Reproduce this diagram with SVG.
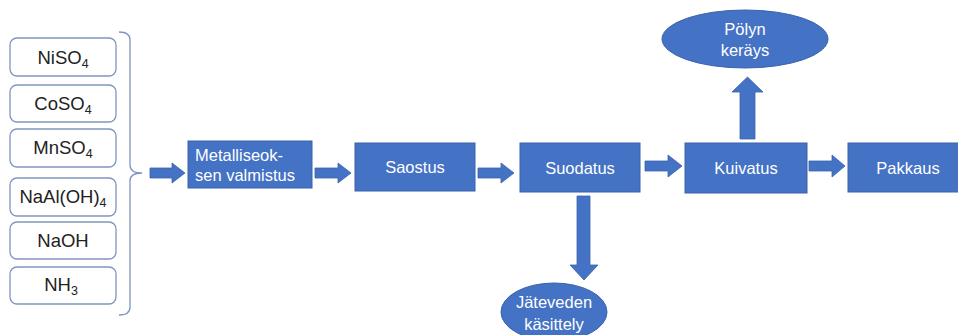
<svg xmlns="http://www.w3.org/2000/svg" width="958" height="335" viewBox="0 0 958 335">
<style>
.in{fill:#fff;stroke:#7f95c0;stroke-width:1.3}
.it{font-family:"Liberation Sans",Arial,sans-serif;font-size:18.5px;fill:#222;text-anchor:middle}
.sb{font-size:12.5px}
.bx{fill:#4472c4;stroke:#3a62ab;stroke-width:1}
.bt{font-family:"Liberation Sans",Arial,sans-serif;font-size:16.5px;fill:#fff;text-anchor:middle}
.ar{fill:#4472c4;stroke:#3a62ab;stroke-width:0.8}
.br{fill:none;stroke:#7f95c0;stroke-width:1.3}
</style>
<rect width="958" height="335" fill="#fff"/>
<g id="inputs">
<g id="n-niso4"><rect class="in" x="10" y="38" width="106" height="38" rx="7"/><text class="it" x="63" y="64">NiSO<tspan class="sb" dy="4">4</tspan></text></g>
<g id="n-coso4"><rect class="in" x="10" y="85" width="106" height="37" rx="7"/><text class="it" x="63" y="110">CoSO<tspan class="sb" dy="4">4</tspan></text></g>
<g id="n-mnso4"><rect class="in" x="10" y="129" width="106" height="38" rx="7"/><text class="it" x="63" y="154">MnSO<tspan class="sb" dy="4">4</tspan></text></g>
<g id="n-naal"><rect class="in" x="10" y="178" width="106" height="38" rx="7"/><text class="it" x="63" y="203">NaAl(OH)<tspan class="sb" dy="4">4</tspan></text></g>
<g id="n-naoh"><rect class="in" x="10" y="222" width="106" height="37" rx="7"/><text class="it" x="63" y="247">NaOH</text></g>
<g id="n-nh3"><rect class="in" x="10" y="267" width="106" height="37" rx="7"/><text class="it" x="61" y="291">NH<tspan class="sb" dy="4">3</tspan></text></g>
</g>
<g id="bracket"><path class="br" d="M119,32 Q130,32 130,40 L130,165 Q130,173 142,173 Q130,173 130,181 L130,307 Q130,315 119,315"/></g>
<g id="connectors">
<path class="ar" d="M150,168 H172 V163 L185,173 L172,183 V178 H150 Z"/>
<path class="ar" d="M315,168 H338 V163 L351,173 L338,183 V178 H315 Z"/>
<path class="ar" d="M478,168 H501 V163 L514,173 L501,183 V178 H478 Z"/>
<path class="ar" d="M645,161 H668 V155 L682,166 L668,177 V171 H645 Z"/>
<path class="ar" d="M809,161 H832 V155 L845,166 L832,177 V171 H809 Z"/>
<path class="ar" d="M740,139 V92 H732 L747.5,77 L763,92 H755 V139 Z"/>
<path class="ar" d="M577,196 V265 H570 L584,280 L598,265 H590 V196 Z"/>
</g>
<g id="n-metalli"><rect class="bx" x="188" y="141" width="124" height="47"/><text class="bt" x="195" y="161" style="text-anchor:start">Metalliseok-</text><text class="bt" x="195" y="181" style="text-anchor:start">sen valmistus</text></g>
<g id="n-saostus"><rect class="bx" x="355" y="143" width="120" height="48"/><text class="bt" x="415" y="173">Saostus</text></g>
<g id="n-suodatus"><rect class="bx" x="520" y="143" width="120" height="49"/><text class="bt" x="580" y="174">Suodatus</text></g>
<g id="n-kuivatus"><rect class="bx" x="685" y="143" width="122" height="50"/><text class="bt" x="746" y="174">Kuivatus</text></g>
<g id="n-pakkaus"><rect class="bx" x="848" y="143" width="112" height="49"/><text class="bt" x="908" y="174">Pakkaus</text></g>
<g id="n-polyn"><ellipse class="bx" cx="745" cy="39" rx="83" ry="29"/><text class="bt" x="745" y="35">Pölyn</text><text class="bt" x="745" y="56">keräys</text></g>
<g id="n-jatevesi"><ellipse class="bx" cx="554" cy="312" rx="53" ry="29"/><text class="bt" x="554" y="308">Jäteveden</text><text class="bt" x="554" y="330">käsittely</text></g>
</svg>
